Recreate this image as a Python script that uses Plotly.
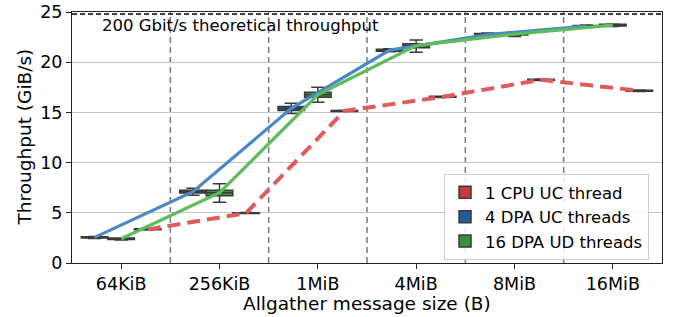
import plotly.graph_objects as go

categories = ["64KiB", "256KiB", "1MiB", "4MiB", "8MiB", "16MiB"]

# 4 DPA UC threads
blue_q1 = [2.50, 6.97, 15.20, 21.10, 22.65, 23.50]
blue_med = [2.55, 7.10, 15.40, 21.20, 22.75, 23.60]
blue_q3 = [2.62, 7.25, 15.60, 21.30, 22.85, 23.65]
blue_lo = [2.45, 6.75, 14.90, 21.05, 22.60, 23.45]
blue_hi = [2.65, 7.45, 15.90, 21.35, 22.90, 23.70]

# 16 DPA UD threads
green_q1 = [2.35, 6.70, 16.50, 21.45, 22.70, 23.60]
green_med = [2.42, 7.00, 16.75, 21.65, 22.80, 23.70]
green_q3 = [2.48, 7.25, 17.00, 21.85, 22.90, 23.78]
green_lo = [2.30, 6.05, 16.00, 21.00, 22.55, 23.55]
green_hi = [2.50, 7.90, 17.50, 22.20, 23.00, 23.80]

# 1 CPU UC thread
red_q1 = [3.30, 4.93, 15.10, 16.50, 18.20, 17.10]
red_med = [3.35, 4.97, 15.15, 16.55, 18.25, 17.15]
red_q3 = [3.40, 5.00, 15.20, 16.60, 18.30, 17.20]
red_lo = [3.28, 4.92, 15.08, 16.48, 18.18, 17.08]
red_hi = [3.42, 5.02, 15.22, 16.62, 18.32, 17.22]

theoretical = 24.8
theoretical_label = "200 Gbit/s theoretical throughput"
x_title = "Allgather message size (B)"
y_title = "Throughput (GiB/s)"

FONT = "DejaVu Sans"
BOXLINE = "#3a3a3a"

series = [
    dict(name="4 DPA UC threads", q1=blue_q1, med=blue_med, q3=blue_q3, lo=blue_lo, hi=blue_hi,
         fill="#215c9a", line="#4a88c7", dash="solid", rank=2, width=3.2),
    dict(name="16 DPA UD threads", q1=green_q1, med=green_med, q3=green_q3, lo=green_lo, hi=green_hi,
         fill="#3a913a", line="#5cbd5a", dash="solid", rank=3, width=3.2),
    dict(name="1 CPU UC thread", q1=red_q1, med=red_med, q3=red_q3, lo=red_lo, hi=red_hi,
         fill="#c63c3e", line="#e05c5c", dash="13px,7px", rank=1, width=4),
]

fig = go.Figure()

for s in series:
    fig.add_trace(go.Scatter(
        x=categories, y=s["med"], mode="lines",
        line=dict(color=s["line"], width=s["width"], dash=s["dash"]),
        offsetgroup=s["name"], showlegend=False, hoverinfo="skip",
    ))

for s in series:
    fig.add_trace(go.Box(
        x=categories, q1=s["q1"], median=s["med"], q3=s["q3"],
        lowerfence=s["lo"], upperfence=s["hi"],
        name=s["name"], offsetgroup=s["name"], legendrank=s["rank"],
        fillcolor=s["fill"], line=dict(color=BOXLINE, width=1.5),
        whiskerwidth=0.5, boxpoints=False,
    ))

for i in range(len(categories) - 1):
    fig.add_vline(x=i + 0.5, line=dict(color="#808080", width=1.6, dash="6px,4px"), layer="below")

fig.add_hline(y=theoretical, line=dict(color="black", width=1.6, dash="5px,3px"))

fig.add_annotation(
    x=0.051, xref="paper", y=theoretical, yref="y", yanchor="top", xanchor="left",
    text=theoretical_label, showarrow=False, font=dict(size=16.5, color="black", family=FONT),
    yshift=0, xshift=-2,
)
fig.add_annotation(
    x=0.5, xref="paper", y=0, yref="paper", xanchor="center", yanchor="middle",
    text=x_title, showarrow=False, font=dict(size=18.5, color="black", family=FONT),
    yshift=-40, borderpad=0,
)
fig.add_annotation(
    x=0, xref="paper", y=0.5, yref="paper", xanchor="center", yanchor="middle",
    text=y_title, textangle=-90, showarrow=False, font=dict(size=18.5, color="black", family=FONT),
    xshift=-48, borderpad=0,
)

fig.update_layout(
    width=674, height=317,
    margin=dict(l=72, r=12, t=12, b=54),
    paper_bgcolor="white", plot_bgcolor="white",
    font=dict(family=FONT, size=16, color="black"),
    boxmode="group", boxgap=0.19, boxgroupgap=0,
    scattermode="group", scattergap=0.19,
    showlegend=True,
    legend=dict(
        x=0.978, y=0.012, xanchor="right", yanchor="bottom",
        bgcolor="rgba(255,255,255,0.85)", bordercolor="#d0d0d0", borderwidth=1,
        font=dict(size=16.5, family=FONT), traceorder="normal",
        tracegroupgap=0,
    ),
    xaxis=dict(
        type="category", range=[-0.5, 5.5], automargin=False,
        showline=True, mirror=True, linecolor="#222", linewidth=1,
        ticks="outside", ticklen=5, tickcolor="#222", showgrid=False,
        tickfont=dict(size=17.5, family=FONT),
    ),
    yaxis=dict(
        range=[0, 25], tickvals=[0, 5, 10, 15, 20, 25], automargin=False,
        showline=True, mirror=True, linecolor="#222", linewidth=1,
        ticks="outside", ticklen=5, tickcolor="#222",
        tickfont=dict(size=17.5, family=FONT),
        showgrid=True, gridcolor="#c4c4c4", gridwidth=1, zeroline=False,
    ),
)

fig.write_html(
    "out.html",
    config={"displayModeBar": False},
    post_script="document.body.style.margin='0';",
)
